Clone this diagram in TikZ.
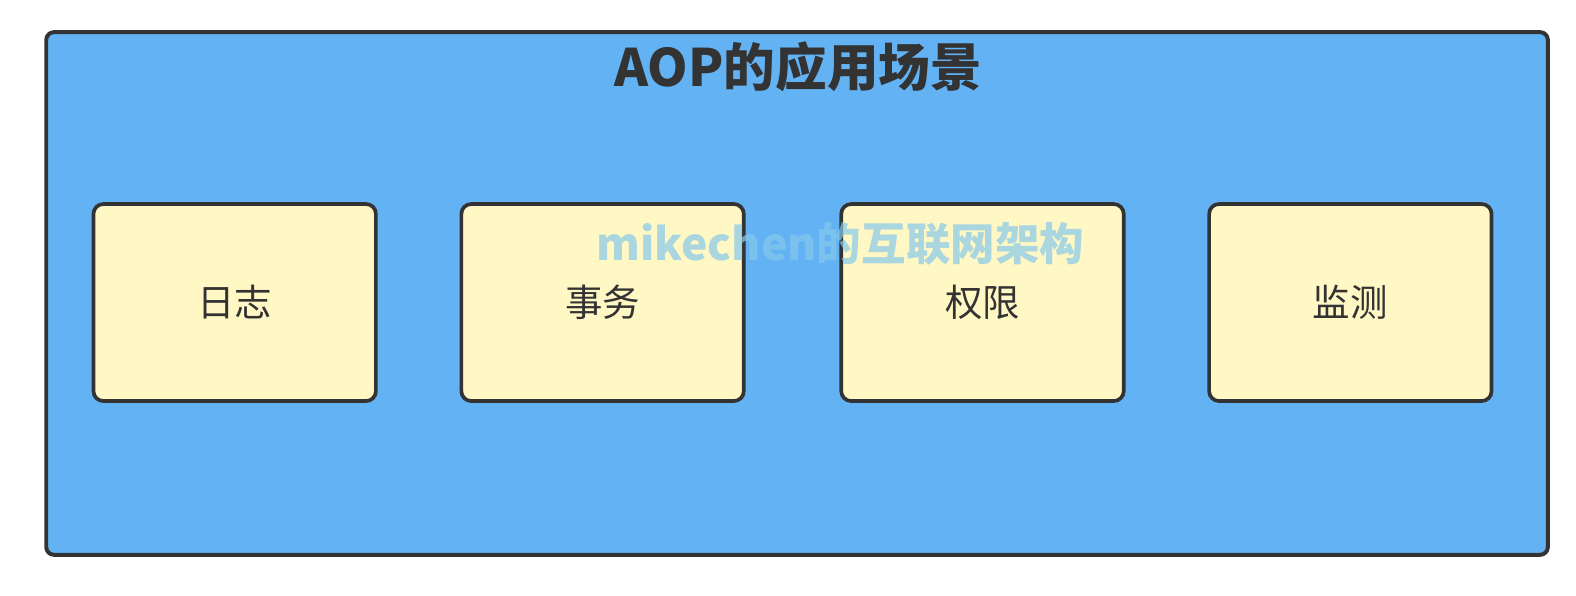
\documentclass[tikz,border=0pt]{standalone}
\usepackage{fontspec}
\setmainfont{Noto Sans CJK SC}
\definecolor{sceneblue}{RGB}{98,178,244}
\definecolor{caseyellow}{RGB}{255,247,196}
\definecolor{edgegray}{RGB}{51,51,51}
\definecolor{markblue}{RGB}{135,200,235}
\tikzset{
  scenebox/.style={draw=edgegray, line width=2.8pt, fill=sceneblue, rounded corners=5.5pt},
  casebox/.style={draw=edgegray, line width=2.6pt, fill=caseyellow, rounded corners=7pt,
    minimum width=281*0.025cm, minimum height=196*0.025cm, inner sep=0pt,
    text=edgegray, font=\fontsize{26.5}{30}\selectfont},
}
\begin{document}
\begin{tikzpicture}[x=0.025cm, y=-0.025cm]
			%%%%% START %%%%%
			\useasboundingbox (0, 0) rectangle (1568, 592);
			
			\draw[scenebox] (46, 32) rectangle (1540, 552);
			\node[text=edgegray, font=\bfseries\fontsize{36.5}{42}\selectfont] (title) at (794, 66) {AOP的应用场景};
			
			\node[casebox] (log) at (233.5, 301) {日志};
			\node[casebox] (tx) at (599.5, 301) {事务};
			\node[casebox] (auth) at (977.5, 301) {权限};
			\node[casebox] (watch) at (1343.5, 301) {监测};
			
			\node[text=markblue, opacity=0.7, font=\bfseries\fontsize{31.5}{36}\selectfont] (mark) at (836, 243) {mikechen的互联网架构};
			%%%%% END %%%%%
\end{tikzpicture}
\end{document}
